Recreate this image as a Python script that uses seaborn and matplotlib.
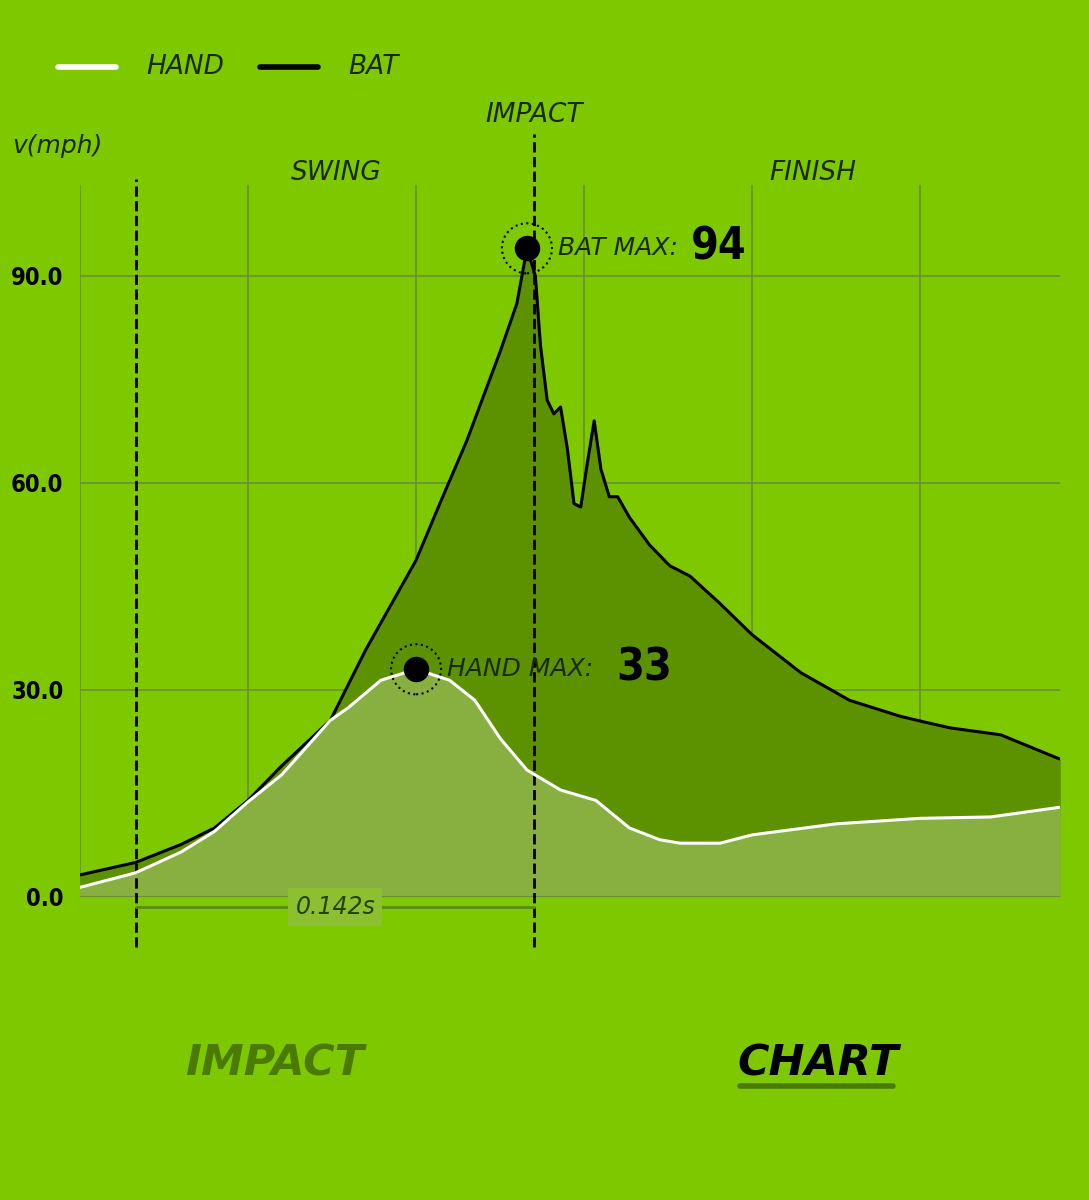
import numpy as np
import pandas as pd
import seaborn as sns
import matplotlib.pyplot as plt

sns.set_style("white")
plt.rcParams['font.family'] = ['DejaVu Sans']

bg = "#7ec800"
dark_fill = "#5c9200"
light_fill = "#88b040"
grid_c = "#6a8e3a"

# time in grid units, speed in mph
bat_t = [0.0, 0.33, 0.6, 0.8, 1.0, 1.2, 1.49, 1.7, 2.0, 2.15, 2.3, 2.5, 2.6, 2.66, 2.71, 2.74, 2.78,
         2.82, 2.86, 2.9, 2.94, 2.98, 3.02, 3.06, 3.1, 3.15, 3.2, 3.27, 3.39, 3.51, 3.63, 3.81,
         4.0, 4.29, 4.58, 4.88, 5.0, 5.18, 5.48, 5.83]
bat_v = [3.2, 5.0, 7.6, 10.0, 14.0, 19.0, 25.6, 35.8, 48.8, 57.5, 66.0, 79.0, 86.0, 94.0, 90.0,
         80.0, 72.0, 70.0, 71.0, 65.0, 57.0, 56.5, 63.0, 69.0, 62.0, 58.0, 58.0, 55.0, 51.0,
         48.0, 46.5, 42.5, 38.0, 32.5, 28.5, 26.2, 25.5, 24.5, 23.5, 20.0]

hand_t = [0.0, 0.33, 0.6, 0.8, 1.0, 1.2, 1.49, 1.6, 1.79, 2.0, 2.2, 2.35, 2.5, 2.66, 2.86, 3.07,
          3.27, 3.45, 3.57, 3.81, 4.0, 4.5, 5.0, 5.42, 5.83]
hand_v = [1.4, 3.5, 6.5, 9.5, 13.8, 17.7, 25.6, 27.5, 31.4, 33.0, 31.4, 28.5, 23.0, 18.4, 15.5,
          14.0, 10.0, 8.3, 7.8, 7.8, 9.0, 10.6, 11.4, 11.6, 13.0]

bat = pd.DataFrame({"t": bat_t, "v": bat_v})
hand = pd.DataFrame({"t": hand_t, "v": hand_v})

fig = plt.figure(figsize=(10.89, 12), dpi=100, facecolor=bg)
ax = fig.add_axes([0.0735, 0.2525, 0.8995, 0.5935], facecolor=bg)

ax.fill_between(bat["t"], bat["v"], color=dark_fill, zorder=1)
ax.fill_between(hand["t"], hand["v"], color=light_fill, zorder=2)
sns.lineplot(data=bat, x="t", y="v", color="black", lw=2.2, ax=ax, zorder=3)
sns.lineplot(data=hand, x="t", y="v", color="white", lw=2.2, ax=ax, zorder=4)

ax.set_xlim(0, 5.83)
ax.set_ylim(0, 103.2)
ax.set_xticks(np.arange(0, 6, 1))
ax.set_xticklabels([])
ax.set_yticks([0, 30, 60, 90])
ax.set_yticklabels(["0.0", "30.0", "60.0", "90.0"], fontsize=17, fontweight="bold",
                   color="black", fontstretch="condensed")
ax.tick_params(length=0, pad=12)
ax.grid(True, color=grid_c, lw=1.2, zorder=0)
ax.set_axisbelow(True)
for s in ax.spines.values():
    s.set_visible(False)
ax.axhline(0, color=grid_c, lw=1.5)
ax.set_xlabel("")
ax.set_ylabel("")

# dashed markers
ax.plot([0.333, 0.333], [-7.3, 104], ls="--", color="black", lw=2, clip_on=False)
ax.plot([2.70, 2.70], [-7.3, 110.5], ls="--", color="black", lw=2, clip_on=False)
ax.plot([0.333, 2.70], [-1.5, -1.5], color="#5a8a10", lw=2, clip_on=False)
ax.text(1.52, -1.5, "0.142s", ha="center", va="center", fontsize=17, style="italic",
        color="#224400", clip_on=False,
        bbox=dict(boxstyle="square,pad=0.3", fc="#8cc030", ec="none"))

# maxima
for tx, vy, lbl, val, off in [(2.66, 94, "BAT MAX:", "94", 96), (2.0, 33, "HAND MAX:", "33", 122)]:
    ax.scatter([tx], [vy], s=300, color="black", zorder=6)
    ax.scatter([tx], [vy], s=1300, facecolors="none", edgecolors="black",
               linestyles=":", lw=1.5, zorder=6)
    ax.annotate(lbl, (tx, vy), xytext=(22, 0), textcoords="offset points", fontsize=18,
                style="italic", color="#1a2a00", va="center")
    ax.annotate(val, (tx, vy), xytext=(22 + off, 1), textcoords="offset points", fontsize=32,
                fontweight="bold", color="black", va="center", fontstretch="condensed")

# section labels
fig.text(336 / 1089, 1 - 173 / 1200, "SWING", ha="center", va="center", fontsize=19, style="italic", color="#1a2a00")
fig.text(534 / 1089, 1 - 115 / 1200, "IMPACT", ha="center", va="center", fontsize=19, style="italic", color="#1a2a00")
fig.text(813 / 1089, 1 - 173 / 1200, "FINISH", ha="center", va="center", fontsize=19, style="italic", color="#1a2a00")
fig.text(12 / 1089, 1 - 146 / 1200, "v(mph)", ha="left", va="center", fontsize=18, style="italic", color="#1a2a00")

# legend
fig.lines.append(plt.Line2D([58 / 1089, 116 / 1089], [1 - 67 / 1200] * 2, color="white", lw=4, transform=fig.transFigure))
fig.text(146 / 1089, 1 - 67 / 1200, "HAND", va="center", fontsize=19, style="italic", color="#1a2a00")
fig.lines.append(plt.Line2D([260 / 1089, 318 / 1089], [1 - 67 / 1200] * 2, color="black", lw=4, transform=fig.transFigure))
fig.text(348 / 1089, 1 - 67 / 1200, "BAT", va="center", fontsize=19, style="italic", color="#1a2a00")

# bottom tabs
fig.text(275 / 1089, 1 - 1063 / 1200, "IMPACT", ha="center", va="center", fontsize=31,
         fontweight="bold", style="italic", color="#4a7a00")
fig.text(818 / 1089, 1 - 1063 / 1200, "CHART", ha="center", va="center", fontsize=31,
         fontweight="bold", style="italic", color="black")
fig.lines.append(plt.Line2D([740 / 1089, 893 / 1089], [1 - 1086 / 1200] * 2, color="#4a7a00", lw=4, transform=fig.transFigure))

fig.savefig("out.png", dpi=100, facecolor=bg)
